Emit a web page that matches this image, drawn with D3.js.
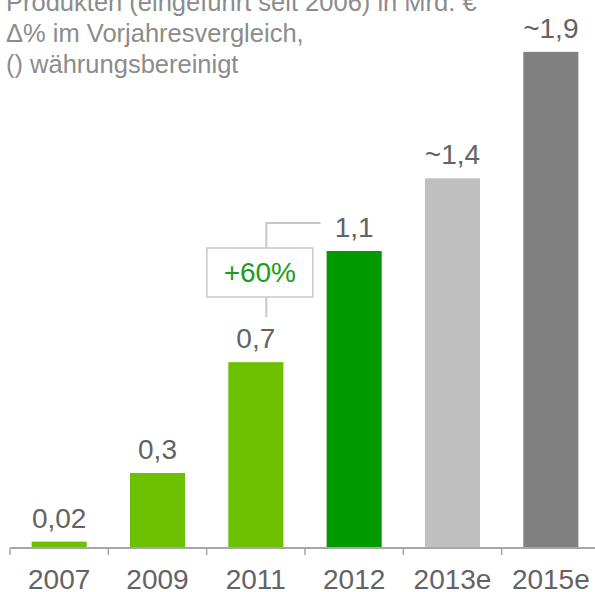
<!DOCTYPE html>
<html><head><meta charset="utf-8">
<script src="https://cdn.jsdelivr.net/npm/d3@7"></script>
<style>body{margin:0;background:#fff}svg{display:block}</style>
</head><body>
<svg id="c" width="595" height="592"></svg>
<script>
const categories = ["2007","2009","2011","2012","2013e","2015e"];
const values = [0.02, 0.275, 0.687, 1.1, 1.37, 1.84];
const valueLabels = ["0,02","0,3","0,7","1,1","~1,4","~1,9"];
const colors = ["#6cc000","#6cc000","#6cc000","#009900","#bfbfbf","#808080"];
const titleLines = ["Produkten (eingeführt seit 2006) in Mrd. €","Δ% im Vorjahresvergleich,","() währungsbereinigt"];
const growthLabel = "+60%";

const svg = d3.select("#c");
const font = "Liberation Sans, Arial, sans-serif";
const x = d3.scaleBand().domain(categories).range([10, 600]).paddingInner(0.44).paddingOuter(0.22);
const y = d3.scaleLinear().domain([0, 1.1]).range([547, 251]);

// title
svg.append("g").selectAll("text").data(titleLines).join("text")
  .attr("x", 6).attr("y", (d,i) => 11 + i*31)
  .attr("font-family", font).attr("font-size", 25.5).attr("fill", "#8c8c8c")
  .text(d => d);

// bars
svg.append("g").selectAll("rect").data(categories).join("rect")
  .attr("x", d => x(d)).attr("width", x.bandwidth())
  .attr("y", (d,i) => y(values[i])).attr("height", (d,i) => y(0) - y(values[i]))
  .attr("fill", (d,i) => colors[i]);

// value labels
svg.append("g").selectAll("text").data(categories).join("text")
  .attr("x", d => x(d) + x.bandwidth()/2)
  .attr("y", (d,i) => y(values[i]) - 14)
  .attr("text-anchor", "middle")
  .attr("font-family", font).attr("font-size", 28).attr("fill", "#636363")
  .text((d,i) => valueLabels[i]);

// axis
const axis = svg.append("g").attr("transform", `translate(0,${y(0)})`)
  .call(d3.axisBottom(x).tickSize(0).tickPadding(22));
axis.select(".domain").attr("stroke", "#a6a6a6").attr("stroke-width", 2).attr("d", "M10,1H600");
axis.selectAll(".tick text").attr("font-family", font).attr("font-size", 28).attr("fill", "#636363");
const step = x.step();
axis.append("g").selectAll("line").data(d3.range(categories.length + 1)).join("line")
  .attr("x1", i => 10 + i*step).attr("x2", i => 10 + i*step)
  .attr("y1", 1).attr("y2", 8).attr("stroke", "#a6a6a6").attr("stroke-width", 1.5);

// growth annotation between 2011 and 2012
const i11 = categories.indexOf("2011"), i12 = categories.indexOf("2012");
const cx = x(categories[i11]) + x.bandwidth()/2 + 4;
const lineX = cx + 6.5;
const boxTop = y(values[i12]) - 3, boxH = 49, boxW = 106;
const topY = boxTop - 25;
const ann = svg.append("g");
ann.append("path")
  .attr("d", `M${lineX},${boxTop}V${topY}H${x(categories[i12]) - 6}`)
  .attr("fill", "none").attr("stroke", "#c8c8c8").attr("stroke-width", 2);
ann.append("line").attr("x1", lineX).attr("x2", lineX)
  .attr("y1", boxTop + boxH).attr("y2", boxTop + boxH + 20)
  .attr("stroke", "#c8c8c8").attr("stroke-width", 2);
ann.append("rect").attr("x", cx - boxW/2).attr("y", boxTop).attr("width", boxW).attr("height", boxH)
  .attr("fill", "#fff").attr("stroke", "#c8c8c8").attr("stroke-width", 1.5);
ann.append("text").attr("x", cx).attr("y", boxTop + 34).attr("text-anchor", "middle")
  .attr("font-family", font).attr("font-size", 28).attr("fill", "#1a9e1a").text(growthLabel);
</script>
</body></html>
